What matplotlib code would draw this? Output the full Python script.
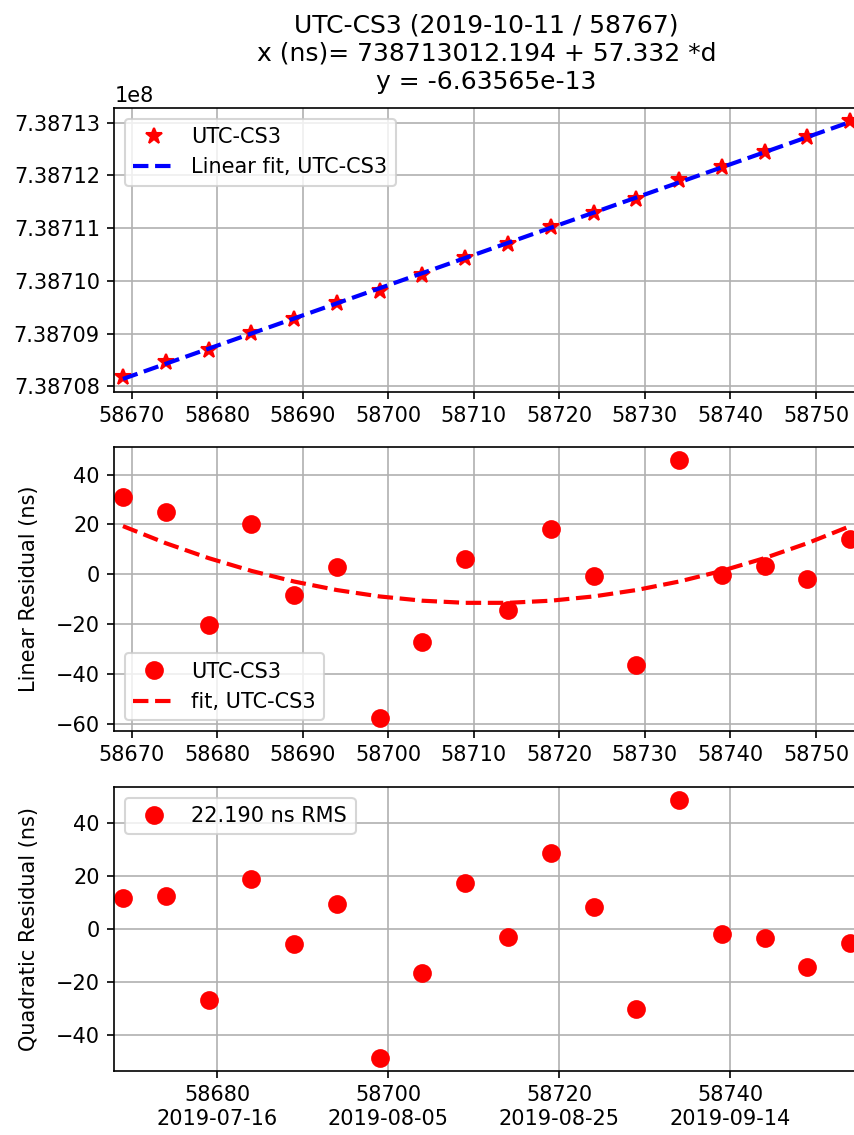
import numpy as np
import matplotlib
matplotlib.use("Agg")
import matplotlib.pyplot as plt
from matplotlib.ticker import MultipleLocator, FixedLocator

# data
mjd = [58669, 58674, 58679, 58684, 58689, 58694, 58699, 58704, 58709,
       58714, 58719, 58724, 58729, 58734, 58739, 58744, 58749, 58754]
phase_ns = [738708170.0, 738708450.7, 738708692.1, 738709019.1, 738709277.3,
            738709575.4, 738709801.5, 738710118.5, 738710438.4, 738710704.7,
            738711023.6, 738711291.7, 738711542.5, 738711911.3, 738712151.9,
            738712442.1, 738712723.6, 738713026.4]

clock = "UTC-CS3"
title_lines = ["UTC-CS3 (2019-10-11 / 58767)",
               "x (ns)= 738713012.194 + 57.332 *d",
               "y = -6.63565e-13"]
rms_label = "22.190 ns RMS"
date_ticks = [58680, 58700, 58720, 58740]
date_labels = ["2019-07-16", "2019-08-05", "2019-08-25", "2019-09-14"]

mjd = np.array(mjd, dtype=float)
phase_ns = np.array(phase_ns)
d = mjd - mjd[-1]

# linear fit, then quadratic fit of the residuals
p1 = np.polyfit(d, phase_ns, 1)
lin_fit = np.polyval(p1, d)
lin_res = phase_ns - lin_fit
p2 = np.polyfit(d, lin_res, 2)
quad_fit = np.polyval(p2, d)
quad_res = lin_res - quad_fit

W, H = 854, 1135
fig = plt.figure(figsize=(W / 150, H / 150), dpi=150)

left = 114.4 / W
width = 744.4 / W
height = 283.5 / H


def axes_at(top_px):
    return fig.add_axes([left, 1 - (top_px + 283.5) / H, width, height])


xlim = (mjd[0] - 1, mjd[-1] + 1)

ax1 = axes_at(108.3)
ax1.plot(mjd, phase_ns, "r*", markersize=8, label=clock)
ax1.plot(mjd, lin_fit, "b--", linewidth=2, label="Linear fit, " + clock)
ax1.ticklabel_format(axis="y", useOffset=False)
ax1.set_xlim(xlim)
ax1.xaxis.set_major_locator(MultipleLocator(10))
ax1.grid(True)
ax1.legend(loc="upper left")
ax1.set_title("\n".join(title_lines), pad=9.5)

ax2 = axes_at(447.3)
ax2.plot(mjd, lin_res, "ro", markersize=8, label=clock)
ax2.plot(mjd, quad_fit, "r--", linewidth=2, label="fit, " + clock)
ax2.set_xlim(xlim)
ax2.xaxis.set_major_locator(MultipleLocator(10))
ax2.set_ylabel("Linear Residual (ns)", labelpad=8)
ax2.grid(True)
ax2.legend(loc="lower left")

ax3 = axes_at(787.3)
ax3.plot(mjd, quad_res, "ro", markersize=8, label=rms_label)
ax3.set_xlim(xlim)
ax3.xaxis.set_major_locator(FixedLocator(date_ticks))
ax3.set_xticklabels([f"{m}\n{s}" for m, s in zip(date_ticks, date_labels)])
ax3.set_ylabel("Quadratic Residual (ns)", labelpad=8)
ax3.grid(True)
ax3.legend(loc="upper left")

fig.savefig("out.png", dpi=150)
